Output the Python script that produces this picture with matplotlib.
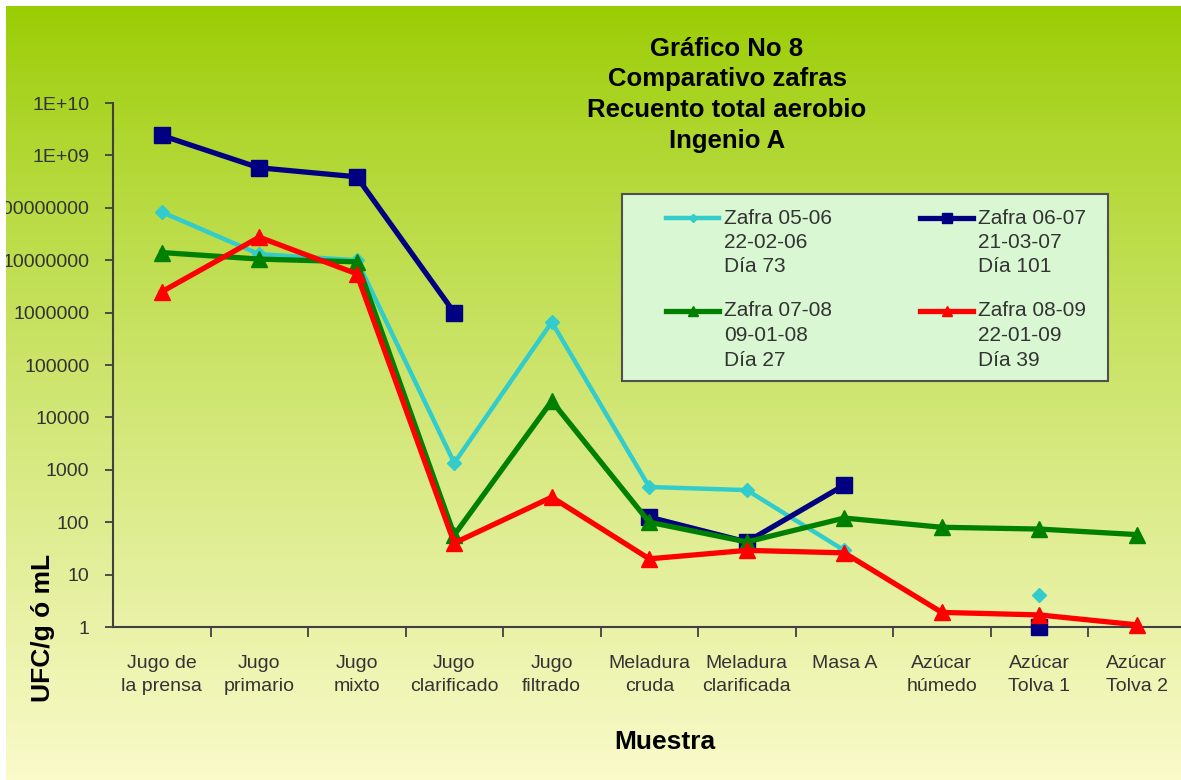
import numpy as np
import matplotlib
matplotlib.use("Agg")
import matplotlib.pyplot as plt
from matplotlib.patches import Rectangle
from matplotlib.lines import Line2D
from matplotlib.ticker import FixedLocator, FixedFormatter, NullFormatter

plt.rcParams['font.family'] = ['Liberation Sans', 'DejaVu Sans']

# ---- data ----
muestras = ["Jugo de\nla prensa", "Jugo\nprimario", "Jugo\nmixto", "Jugo\nclarificado",
            "Jugo\nfiltrado", "Meladura\ncruda", "Meladura\nclarificada", "Masa A",
            "Azúcar\nhúmedo", "Azúcar\nTolva 1", "Azúcar\nTolva 2"]
nan = np.nan
zafra_0506 = [8.3e7, 1.3e7, 1.0e7, 1350, 6.6e5, 470, 410, 29, nan, 4, nan]
zafra_0607 = [2.4e9, 5.8e8, 3.9e8, 1.0e6, nan, 125, 42, 510, nan, 1, nan]
zafra_0708 = [1.4e7, 1.05e7, 9.3e6, 57, 2.05e4, 100, 42, 120, 80, 74, 58]
zafra_0809 = [2.5e6, 2.75e7, 5.5e6, 40, 300, 20, 29, 26, 1.9, 1.7, 1.1]

series_names = [["Zafra 05-06", "22-02-06", "Día 73"],
                ["Zafra 06-07", "21-03-07", "Día 101"],
                ["Zafra 07-08", "09-01-08", "Día 27"],
                ["Zafra 08-09", "22-01-09", "Día 39"]]
titulo = ["Gráfico No 8", "Comparativo zafras", "Recuento total aerobio", "Ingenio A"]
y_ticks = [1, 10, 100, 1000, 10000, 100000, 1000000, 10000000, 100000000, 1e9, 1e10]
y_labels = ["1", "10", "100", "1000", "10000", "100000", "1000000", "10000000",
            "100000000", "1E+09", "1E+10"]

W, H = 1181, 780
fig = plt.figure(figsize=(W / 100, H / 100), dpi=100)
fig.patch.set_facecolor("white")

def fx(x):
    return x / W

def fy(y):
    return 1 - y / H

# background gradient
bg = fig.add_axes([0, 0, 1, 1], zorder=-5)
t = np.linspace(0, 1, 256)[:, None]
top = np.array([153, 204, 0]) / 255
bot = np.array([250, 250, 202]) / 255
grad = top[None, None, :] + (bot - top)[None, None, :] * (t ** 0.85)[:, :, None]
bg.imshow(np.repeat(grad, 4, axis=1), aspect="auto", extent=[0, 1, 0, 1])
bg.set_axis_off()

# main axes
ax = fig.add_axes([fx(113), fy(627), 11 * 97.5 / W, (627 - 103) / H])
ax.patch.set_alpha(0)

styles = [
    (zafra_0506, "#33CCCC", "D", 7.5, 3.2),
    (zafra_0607, "#000080", "s", 12, 3.8),
    (zafra_0708, "#008000", "^", 12, 3.8),
    (zafra_0809, "#FF0000", "^", 12, 3.8),
]
x = np.arange(len(muestras))
for i, (vals, c, m, ms, lw) in enumerate(styles):
    ax.plot(x, vals, color=c, lw=lw, marker=m, ms=ms, mec=c, mfc=c,
            clip_on=False, zorder=3 + i)

ax.set_yscale("log")
ax.set_ylim(1, 1e10)
ax.set_xlim(-0.5, len(muestras) - 0.5)
ax.yaxis.set_major_locator(FixedLocator(y_ticks))
ax.yaxis.set_major_formatter(FixedFormatter(y_labels))
ax.yaxis.set_minor_locator(FixedLocator([]))
ax.yaxis.set_minor_formatter(NullFormatter())
ax.tick_params(axis="y", which="major", length=6, width=1.3, color="#404040",
               labelsize=14, labelcolor="#333333", pad=11)

ax.xaxis.set_major_locator(FixedLocator(np.arange(0.5, len(muestras) - 0.5)))
ax.xaxis.set_major_formatter(NullFormatter())
ax.xaxis.set_minor_locator(FixedLocator(x))
ax.xaxis.set_minor_formatter(FixedFormatter(muestras))
ax.tick_params(axis="x", which="major", length=7, width=1.3, color="#404040")
ax.tick_params(axis="x", which="minor", length=0, labelsize=14,
               labelcolor="#333333", pad=20)
for lab in ax.xaxis.get_minorticklabels():
    lab.set_linespacing(1.45)

for s in ["top", "right"]:
    ax.spines[s].set_visible(False)
for s in ["left", "bottom"]:
    ax.spines[s].set_color("#404040")
    ax.spines[s].set_linewidth(1.5)

# axis titles
fig.text(fx(665), fy(742), "Muestra", fontsize=19, fontweight="bold",
         ha="center", va="center")
fig.text(fx(43), fy(628), "UFC/g ó mL", fontsize=19, fontweight="bold",
         rotation=90, ha="center", va="center")

# chart title
for k, line in enumerate(titulo):
    fig.text(fx(727), fy([49, 79, 110, 141][k]), line, fontsize=18.5,
             fontweight="bold", ha="center", va="center")

# legend box
fig.patches.append(Rectangle((fx(622), fy(381)), fx(1108 - 622), (381 - 194) / H,
                             transform=fig.transFigure, facecolor="#d9f7d2",
                             edgecolor="#505050", lw=1.5, zorder=1))
pos = [(666, 218), (920, 218), (666, 311), (920, 311)]
for (vals, c, m, ms, lw), (lx, ly), names in zip(styles, pos, series_names):
    fig.lines.append(Line2D([fx(lx), fx(lx + 53)], [fy(ly), fy(ly)],
                            transform=fig.transFigure, color=c, lw=lw))
    fig.lines.append(Line2D([fx(lx + 26.5)], [fy(ly)], transform=fig.transFigure,
                            color=c, marker=m, ms=ms * 0.55, lw=0))
    for j, nm in enumerate(names):
        fig.text(fx(lx + 58), fy(ly + 24.5 * j), nm, fontsize=15, color="#333333",
                 ha="left", va="center")

# white border top / left
fig.patches.append(Rectangle((0, 0), fx(6), 1, transform=fig.transFigure,
                             facecolor="white", edgecolor="none", zorder=20))
fig.patches.append(Rectangle((0, fy(6)), 1, 6 / H, transform=fig.transFigure,
                             facecolor="white", edgecolor="none", zorder=20))

fig.savefig("out.png", dpi=100)
